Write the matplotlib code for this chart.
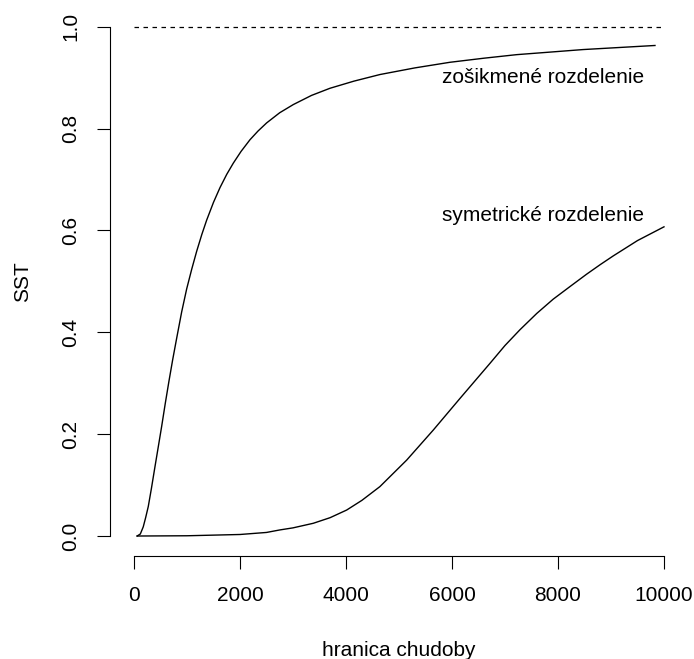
import matplotlib
matplotlib.use("Agg")
import matplotlib.pyplot as plt

plt.rcParams["font.family"] = ["Liberation Sans", "DejaVu Sans"]
plt.rcParams["font.size"] = 15

# poverty line values and share of population below it (SST)
skew_x = [60, 120, 175, 220, 270, 330, 396, 460, 522, 590, 660, 730, 805, 900,
          994, 1090, 1183, 1280, 1371, 1500, 1623, 1750, 1874, 2020, 2189, 2340,
          2503, 2750, 3006, 3350, 3698, 4150, 4642, 5300, 5960, 6600, 7220, 7850,
          8475, 9150, 9830]
skew_y = [0.0, 0.004, 0.018, 0.036, 0.058, 0.094, 0.136, 0.176, 0.215, 0.26,
          0.304, 0.346, 0.388, 0.440, 0.485, 0.524, 0.559, 0.592, 0.620, 0.655,
          0.684, 0.710, 0.732, 0.755, 0.778, 0.795, 0.811, 0.831, 0.847, 0.865,
          0.879, 0.893, 0.906, 0.919, 0.930, 0.938, 0.945, 0.950, 0.955, 0.959,
          0.963]

sym_x = [60, 1000, 2000, 2500, 2755, 3000, 3383, 3700, 4013, 4300, 4640, 5145,
         5647, 6150, 6717, 7000, 7283, 7600, 7910, 8230, 8540, 8800, 9044, 9500,
         10000]
sym_y = [0.0, 0.0005, 0.003, 0.007, 0.012, 0.016, 0.025, 0.036, 0.051, 0.07,
         0.097, 0.149, 0.208, 0.270, 0.339, 0.374, 0.405, 0.437, 0.465, 0.490,
         0.514, 0.533, 0.550, 0.580, 0.607]

x_ticks = [0, 2000, 4000, 6000, 8000, 10000]
y_ticks = [0.0, 0.2, 0.4, 0.6, 0.8, 1.0]

fig = plt.figure(figsize=(6.94, 6.59), dpi=100)
ax = fig.add_axes([0.1625, 0.1557, 0.8248, 0.8348])

ax.plot(skew_x, skew_y, color="black", lw=1.0)
ax.plot(sym_x, sym_y, color="black", lw=1.0)
ax.plot([0, 10000], [1.0, 1.0], color="black", lw=0.9, linestyle=(0, (3.6, 3.6)))

ax.text(7717, 0.90, "zošikmené rozdelenie", ha="center", va="center")
ax.text(7717, 0.63, "symetrické rozdelenie", ha="center", va="center")

ax.set_xlim(-400, 10400)
ax.set_ylim(-0.04, 1.04)
ax.set_xticks(x_ticks)
ax.set_xticklabels([str(v) for v in x_ticks])
ax.set_yticks(y_ticks)
ax.set_yticklabels([f"{v:.1f}" for v in y_ticks])

for side in ("top", "right"):
    ax.spines[side].set_visible(False)
ax.spines["bottom"].set_bounds(0, 10000)
ax.spines["left"].set_bounds(0, 1)
ax.spines["left"].set_position(("outward", 2))
ax.tick_params(direction="out", length=9.5, width=0.8, pad=12)
ax.tick_params(axis="y", labelrotation=90)
for lbl in ax.get_yticklabels():
    lbl.set_verticalalignment("center")

ax.set_xlabel("hranica chudoby", labelpad=26)
ax.set_ylabel("SST", labelpad=21)

fig.savefig("out.png", dpi=100)
